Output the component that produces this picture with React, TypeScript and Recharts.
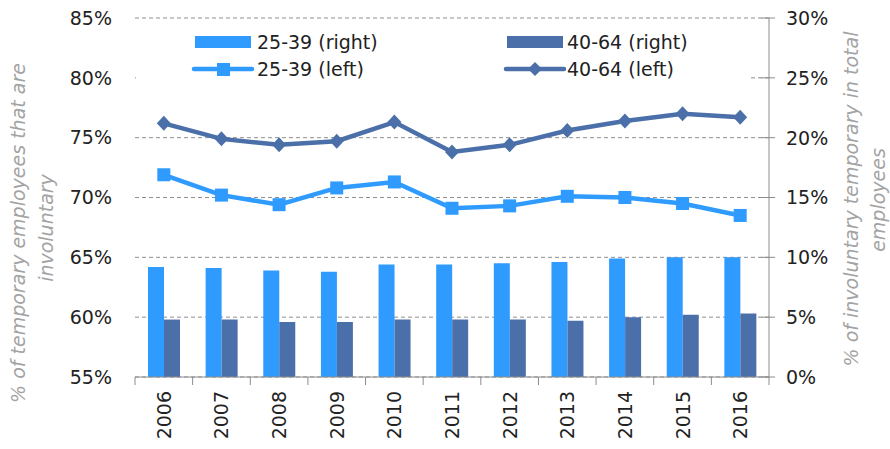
import {
  Bar,
  CartesianGrid,
  ComposedChart,
  Legend,
  Line,
  XAxis,
  YAxis,
} from "recharts";

const years = ["2006", "2007", "2008", "2009", "2010", "2011", "2012", "2013", "2014", "2015", "2016"];
const bars2539 = [9.2, 9.1, 8.9, 8.8, 9.4, 9.4, 9.5, 9.6, 9.9, 10.0, 10.0];
const bars4064 = [4.8, 4.8, 4.6, 4.6, 4.8, 4.8, 4.8, 4.7, 5.0, 5.2, 5.3];
const line2539 = [71.9, 70.2, 69.4, 70.8, 71.3, 69.1, 69.3, 70.1, 70.0, 69.5, 68.5];
const line4064 = [76.2, 74.9, 74.4, 74.7, 76.3, 73.8, 74.4, 75.6, 76.4, 77.0, 76.7];
const leftTicks = [55, 60, 65, 70, 75, 80, 85];
const rightTicks = [0, 5, 10, 15, 20, 25, 30];

const LIGHT = "#2f9bff";
const DARK = "#4b6fa8";
const FONT = "'DejaVu Sans', sans-serif";
const HALF_BAND = 634 / years.length / 2;

const data = years.map((year, i) => ({
  year,
  b2539: bars2539[i],
  b4064: bars4064[i],
  l2539: line2539[i],
  l4064: line4064[i],
}));

const SquareDot = (props: any) => {
  const { cx, cy } = props;
  if (cx == null || cy == null) return null;
  return <rect x={cx - 6.5} y={cy - 6.5} width={13} height={13} fill={LIGHT} />;
};

const DiamondDot = (props: any) => {
  const { cx, cy } = props;
  if (cx == null || cy == null) return null;
  return (
    <polygon
      points={`${cx},${cy - 7.5} ${cx + 7},${cy} ${cx},${cy + 7.5} ${cx - 7},${cy}`}
      fill={DARK}
    />
  );
};

const YearTick = (props: any) => {
  const { x, y, payload, index } = props;
  return (
    <g>
      {index === 0 && (
        <line x1={x - HALF_BAND} x2={x - HALF_BAND} y1={y} y2={y + 8} stroke="#8c8c8c" />
      )}
      <line x1={x + HALF_BAND} x2={x + HALF_BAND} y1={y} y2={y + 8} stroke="#8c8c8c" />
      <text
        x={x}
        y={y + 14}
        transform={`rotate(-90 ${x} ${y + 14})`}
        textAnchor="end"
        dominantBaseline="central"
        fontSize={19}
        fontFamily={FONT}
        fill="#222"
      >
        {payload.value}
      </text>
    </g>
  );
};

const RightTick = (props: any) => {
  const { x, y, payload } = props;
  return (
    <g>
      <line x1={x - 8} x2={x + 6} y1={y} y2={y} stroke="#8c8c8c" />
      <text x={x + 17} y={y} dy="0.36em" fontSize={19} fontFamily={FONT} fill="#222">
        {payload.value}%
      </text>
    </g>
  );
};

const LegendBox = () => (
  <svg width={615} height={64} style={{ display: "block" }}>
    <rect x={59} y={10} width={56} height={12} fill={LIGHT} />
    <text x={121} y={16} dy="0.36em" fontSize={19} fontFamily={FONT} fill="#222">
      25-39 (right)
    </text>
    <rect x={371} y={10} width={56} height={12} fill={DARK} />
    <text x={431} y={16} dy="0.36em" fontSize={19} fontFamily={FONT} fill="#222">
      40-64 (right)
    </text>
    <line x1={58} x2={116} y1={43} y2={43} stroke={LIGHT} strokeWidth={4.5} strokeLinecap="round" />
    <rect x={81} y={37} width={13} height={13} fill={LIGHT} />
    <text x={121} y={43} dy="0.36em" fontSize={19} fontFamily={FONT} fill="#222">
      25-39 (left)
    </text>
    <line x1={370} x2={428} y1={43} y2={43} stroke={DARK} strokeWidth={4.5} strokeLinecap="round" />
    <polygon points="399,36 406,43 399,50 392,43" fill={DARK} />
    <text x={431} y={43} dy="0.36em" fontSize={19} fontFamily={FONT} fill="#222">
      40-64 (left)
    </text>
  </svg>
);

const AxisTitle = ({ x, y, text }: { x: number; y: number; text: string }) => (
  <text
    transform={`translate(${x} ${y}) rotate(-90)`}
    textAnchor="middle"
    dominantBaseline="central"
    fontSize={19}
    fontStyle="italic"
    fontFamily={FONT}
    fill="#a3a3a3"
  >
    {text}
  </text>
);

export default function App() {
  return (
    <div style={{ position: "absolute", left: 0, top: 0, width: 890, height: 449 }}>
      <ComposedChart
        width={890}
        height={449}
        data={data}
        margin={{ top: 18, right: 0, bottom: 0, left: 0 }}
        barGap={0}
      >
        <CartesianGrid
          yAxisId="left"
          vertical={false}
          stroke="#8f8f8f"
          strokeDasharray="4 3"
        />
        <XAxis
          dataKey="year"
          height={72}
          tickLine={false}
          tickSize={0}
          tickMargin={0}
          interval={0}
          axisLine={{ stroke: "#8c8c8c" }}
          tick={<YearTick />}
        />
        <YAxis
          yAxisId="left"
          orientation="left"
          width={135}
          domain={[55, 85]}
          ticks={leftTicks}
          axisLine={false}
          tickLine={false}
          tickSize={0}
          tickMargin={23}
          tickFormatter={(v: number) => `${v}%`}
          tick={{ fontSize: 19, fontFamily: FONT, fill: "#222" }}
        />
        <YAxis
          yAxisId="right"
          orientation="right"
          width={121}
          domain={[0, 30]}
          ticks={rightTicks}
          axisLine={{ stroke: "#8c8c8c" }}
          tickLine={false}
          tickSize={0}
          tickMargin={0}
          tick={<RightTick />}
        />
        <Legend
          layout="vertical"
          align="center"
          verticalAlign="middle"
          content={<LegendBox />}
          wrapperStyle={{ position: "absolute", left: 136, top: 26, width: 615, height: 64, background: "#fff" }}
        />
        <Bar yAxisId="right" dataKey="b2539" name="25-39 (right)" fill={LIGHT} barSize={16} isAnimationActive={false} />
        <Bar yAxisId="right" dataKey="b4064" name="40-64 (right)" fill={DARK} barSize={16} isAnimationActive={false} />
        <Line
          yAxisId="left"
          dataKey="l2539"
          name="25-39 (left)"
          stroke={LIGHT}
          strokeWidth={4.5}
          dot={<SquareDot />}
          activeDot={false}
          isAnimationActive={false}
        />
        <Line
          yAxisId="left"
          dataKey="l4064"
          name="40-64 (left)"
          stroke={DARK}
          strokeWidth={4.5}
          dot={<DiamondDot />}
          activeDot={false}
          isAnimationActive={false}
        />
      </ComposedChart>
      <svg width={890} height={449} style={{ position: "absolute", left: 0, top: 0, pointerEvents: "none" }}>
        <AxisTitle x={18} y={233} text="% of temporary employees that are" />
        <AxisTitle x={46} y={228} text="involuntary" />
        <AxisTitle x={851} y={199} text="% of involuntary temporary  in total" />
        <AxisTitle x={878} y={200} text="employees" />
      </svg>
    </div>
  );
}
